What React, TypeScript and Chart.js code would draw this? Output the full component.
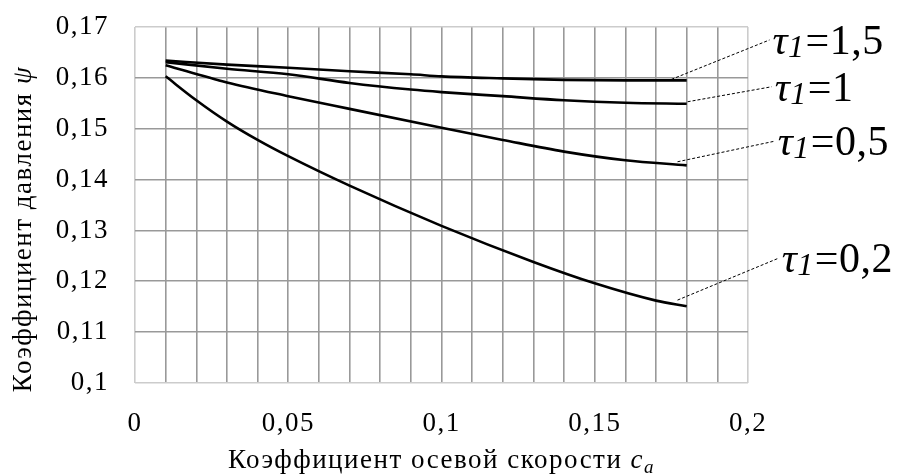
import { useEffect, useRef } from "react";
import { Chart, registerables } from "chart.js";

Chart.register(...registerables);

// Axis ranges and tick labels
const xMin = 0;
const xMax = 0.2;
const xStep = 0.01;
const xLabelEvery = 0.05;
const yMin = 0.1;
const yMax = 0.17;
const yStep = 0.01;

// Series: coefficient of axial velocity (ca) vs pressure coefficient (psi)
const caTau15 = [0.01, 0.03, 0.05, 0.07, 0.09, 0.1, 0.12, 0.14, 0.16, 0.18];
const psiTau15 = [0.1634, 0.1626, 0.162, 0.1613, 0.1607, 0.1603, 0.1599, 0.1596, 0.1595, 0.1595];

const caTau1 = [0.01, 0.03, 0.05, 0.07, 0.09, 0.1, 0.12, 0.14, 0.16, 0.18];
const psiTau1 = [0.1631, 0.1618, 0.1607, 0.159, 0.1577, 0.1572, 0.1564, 0.1556, 0.1551, 0.1549];

const caTau05 = [0.01, 0.03, 0.05, 0.07, 0.1, 0.12, 0.14, 0.16, 0.18];
const psiTau05 = [0.1625, 0.1591, 0.1564, 0.1539, 0.1502, 0.1478, 0.1455, 0.1438, 0.1428];

const caTau02 = [0.01, 0.02, 0.03, 0.04, 0.05, 0.07, 0.1, 0.13, 0.15, 0.17, 0.18];
const psiTau02 = [0.1603, 0.1556, 0.1514, 0.1478, 0.1446, 0.1388, 0.1309, 0.1238, 0.1196, 0.1162, 0.1151];

// Curve labels (τ1 values) and their leader lines
const tauLabels = ["1,5", "1", "0,5", "0,2"];
const leaderFromCa = [0.175, 0.1803, 0.177, 0.177];
const leaderFromPsi = [0.1597, 0.1553, 0.1435, 0.1163];
const labelCa = [0.208, 0.2087, 0.2097, 0.211];
const labelPsi = [0.1647, 0.1555, 0.1448, 0.1218];

const xTitle = "Коэффициент осевой скорости ";
const yTitle = "Коэффициент давления ";

const SERIF = '"Liberation Serif", "Times New Roman", serif';
const SPACING = "1.5px";

const fmt = (v: number) => String(parseFloat(v.toFixed(2))).replace(".", ",");

const toPts = (xs: number[], ys: number[]) => xs.map((x, i) => ({ x, y: ys[i] }));

const spacingPlugin = {
  id: "spacing",
  beforeDraw(chart: any) {
    chart.ctx.letterSpacing = SPACING;
  },
};

const annotPlugin = {
  id: "annot",
  afterDatasetsDraw(chart: any) {
    const { ctx, scales, chartArea } = chart;
    const x = scales.x;
    const y = scales.y;
    ctx.save();
    ctx.fillStyle = "#000";
    ctx.strokeStyle = "#000";
    ctx.letterSpacing = "0.5px";
    tauLabels.forEach((v, i) => {
      const sx = x.getPixelForValue(leaderFromCa[i]);
      const sy = y.getPixelForValue(leaderFromPsi[i]);
      const lx = x.getPixelForValue(labelCa[i]);
      const ly = y.getPixelForValue(labelPsi[i]);
      ctx.setLineDash([3, 2]);
      ctx.lineWidth = 1;
      ctx.beginPath();
      ctx.moveTo(sx, sy);
      ctx.lineTo(lx - 3, ly - 14);
      ctx.stroke();
      ctx.setLineDash([]);
      ctx.textAlign = "left";
      ctx.textBaseline = "alphabetic";
      ctx.font = `italic 42px ${SERIF}`;
      ctx.fillText("τ", lx, ly);
      let cx = lx + ctx.measureText("τ").width;
      ctx.font = `italic 32px ${SERIF}`;
      ctx.fillText("1", cx, ly + 3);
      cx += ctx.measureText("1").width + 1;
      ctx.font = `42px ${SERIF}`;
      ctx.fillText("=" + v, cx, ly);
    });

    ctx.letterSpacing = SPACING;
    // X axis title
    ctx.textBaseline = "alphabetic";
    ctx.textAlign = "left";
    ctx.font = `27px ${SERIF}`;
    const w1 = ctx.measureText(xTitle).width;
    ctx.font = `italic 27px ${SERIF}`;
    const w2 = ctx.measureText("c").width;
    ctx.font = `italic 19px ${SERIF}`;
    const w3 = ctx.measureText("a").width;
    const cxm = (chartArea.left + chartArea.right) / 2;
    let tx = cxm - (w1 + w2 + w3) / 2;
    const ty = 468;
    ctx.font = `27px ${SERIF}`;
    ctx.fillText(xTitle, tx, ty);
    tx += w1;
    ctx.font = `italic 27px ${SERIF}`;
    ctx.fillText("c", tx, ty);
    tx += w2;
    ctx.font = `italic 19px ${SERIF}`;
    ctx.fillText("a", tx, ty + 5);

    // Y axis title
    ctx.save();
    ctx.translate(31, 229);
    ctx.rotate(-Math.PI / 2);
    ctx.font = `27px ${SERIF}`;
    const v1 = ctx.measureText(yTitle).width;
    ctx.font = `italic 27px ${SERIF}`;
    const v2 = ctx.measureText("ψ").width;
    let vx = -(v1 + v2) / 2;
    ctx.font = `27px ${SERIF}`;
    ctx.fillText(yTitle, vx, 0);
    vx += v1;
    ctx.font = `italic 27px ${SERIF}`;
    ctx.fillText("ψ", vx, 0);
    ctx.restore();

    ctx.restore();
  },
};

const gridColor = (min: number, max: number) => (c: any) => {
  const v = c.tick ? c.tick.value : null;
  if (v === null) return "#999999";
  if (Math.abs(v - min) < 1e-9 || Math.abs(v - max) < 1e-9) return "#cccccc";
  return "#999999";
};

export default function App() {
  const ref = useRef<HTMLCanvasElement>(null);
  useEffect(() => {
    document.body.style.margin = "0";
    const canvas = ref.current!;
    const lineDs = (data: any[]) => ({
      data,
      borderColor: "#000",
      borderWidth: 2.6,
      pointRadius: 0,
      cubicInterpolationMode: "monotone" as const,
      fill: false,
    });
    const chart = new Chart(canvas, {
      type: "line",
      data: {
        datasets: [
          lineDs(toPts(caTau15, psiTau15)),
          lineDs(toPts(caTau1, psiTau1)),
          lineDs(toPts(caTau05, psiTau05)),
          lineDs(toPts(caTau02, psiTau02)),
        ],
      },
      options: {
        animation: false,
        responsive: false,
        maintainAspectRatio: false,
        layout: { padding: { left: 0, top: 27, right: 155, bottom: 0 } },
        plugins: { legend: { display: false }, tooltip: { enabled: false } },
        scales: {
          x: {
            type: "linear",
            min: xMin,
            max: xMax,
            afterFit: (s: any) => {
              s.height = 91;
              s.paddingLeft = 0;
              s.paddingRight = 0;
            },
            grid: { color: gridColor(xMin, xMax), lineWidth: 1.6, drawTicks: false },
            border: { display: false },
            ticks: {
              stepSize: xStep,
              autoSkip: false,
              maxRotation: 0,
              padding: 25,
              color: "#000",
              font: { family: SERIF, size: 27 },
              callback: (v: any) => {
                const n = Number(v);
                return Math.abs(Math.round(n * 100) % Math.round(xLabelEvery * 100)) === 0 ? fmt(n) : "";
              },
            },
          },
          y: {
            type: "linear",
            min: yMin,
            max: yMax,
            afterFit: (s: any) => {
              s.width = 135;
              s.paddingTop = 0;
              s.paddingBottom = 0;
            },
            grid: { color: gridColor(yMin, yMax), lineWidth: 1.6, drawTicks: false },
            border: { display: false },
            ticks: {
              stepSize: yStep,
              autoSkip: false,
              padding: 26,
              color: "#000",
              font: { family: SERIF, size: 27 },
              callback: (v: any) => fmt(Number(v)),
            },
          },
        },
      },
      plugins: [spacingPlugin, annotPlugin],
    });
    return () => chart.destroy();
  }, []);
  return (
    <div style={{ width: 903, height: 474 }}>
      <canvas ref={ref} width={903} height={474} style={{ display: "block" }} />
    </div>
  );
}
